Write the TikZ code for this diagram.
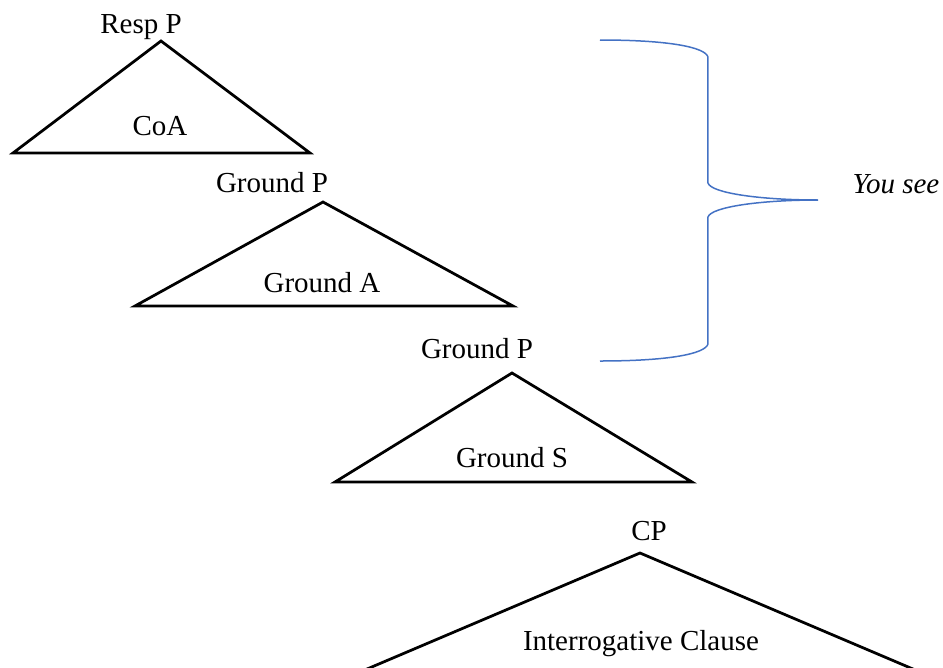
\documentclass[tikz,border=0pt]{standalone}
\usepackage{fontspec}
\setmainfont{Liberation Serif}
\definecolor{braceblue}{RGB}{68,114,196}

\begin{document}
\begin{tikzpicture}[x=0.4pt,y=-0.4pt,
 tri/.style ={draw=black,line width=1.1pt,line join=miter},
 brace/.style ={draw=braceblue,line width=0.6pt},
 lbl/.style ={anchor=base,inner sep=0pt,font=\fontsize{11.6pt}{14pt}\selectfont}
 ]
\useasboundingbox (0,0) rectangle (943,668);
\clip (0,0) rectangle (943,668);
%draw Resp P
\draw[tri] (161,41) -- (13,153) -- (310,153) -- cycle;
\node[lbl] (resp) at (141,33) {Resp P};
\node[lbl] (coa) at (160,135) {CoA};
%draw first Ground P
\draw[tri] (323,202) -- (135,306) -- (513,306) -- cycle;
\node[lbl] (gp1) at (272,192) {Ground P};
\node[lbl] (ga) at (322,292) {Ground A};
%draw second Ground P
\draw[tri] (512,373) -- (335,482) -- (692,482) -- cycle;
\node[lbl] (gp2) at (477,358) {Ground P};
\node[lbl] (gs) at (512,467) {Ground S};
%draw CP
\draw[tri] (640,553) -- (360,672) -- (920,672) -- cycle;
\node[lbl] (cp) at (649,540) {CP};
\node[lbl] (ic) at (641,650) {Interrogative Clause};
%draw brace
\coordinate (btop) at (600,40);
\coordinate (bbot) at (600,361);
\coordinate (btip) at (818,200);
\draw[brace] (btop) .. controls (668,40) and (705,47) .. (708,57)
  -- (708,183) .. controls (711,193) and (760,200) .. (btip);
\draw[brace] (bbot) .. controls (668,361) and (705,354) .. (708,344)
  -- (708,217) .. controls (711,207) and (760,200) .. (btip);
\node[lbl,font=\fontsize{11.6pt}{14pt}\selectfont\itshape] (yousee) at (896,193) {You see};
\end{tikzpicture}
\end{document}
